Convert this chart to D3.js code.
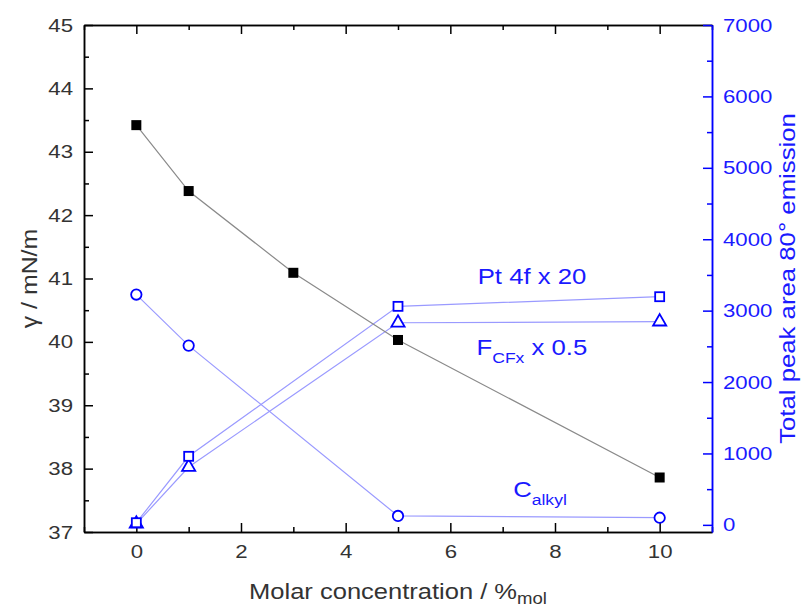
<!DOCTYPE html>
<html lang="en">

<head>
  <meta charset="utf-8">
  <title>surfaceTension</title>
  <script src="https://d3js.org/d3.v7.min.js"></script>
  <style type="text/css">
    html,
    body {
      margin: 0;
      padding: 0;
      background: #fff;
      overflow: hidden;
    }

    svg {
      display: block;
    }

    svg text {
      font-family: "Liberation Sans", Arial, Helvetica, sans-serif;
    }

    .axis path.domain {
      stroke-width: 1.5px;
    }

    .axis line {
      stroke-width: 1.5px;
    }

    .axis text {
      font-size: 19px;
      fill: #333;
    }

    #yAxisRight text {
      fill: #1a1aff;
    }

    .title {
      font-size: 22px;
      fill: #333;
      text-anchor: middle;
    }

    .seriesLabel {
      font-size: 22px;
      fill: #1a1aff;
    }
  </style>
</head>

<body>
  <script>
    // data
    const concGamma = [0, 1, 3, 5, 10];
    const gammaValues = [43.42, 42.38, 41.09, 40.03, 37.86];

    const concXps = [0, 1, 5, 10];
    const pt4fValues = [30, 960, 3060, 3195];
    const cfxValues = [15, 810, 2830, 2845];
    const alkylValues = [3225, 2510, 125, 100];

    const xTicks = [0, 2, 4, 6, 8, 10];
    const xMinorTicks = [-1, 1, 3, 5, 7, 9, 11];
    const yLeftTicks = [37, 38, 39, 40, 41, 42, 43, 44, 45];
    const yRightTicks = [0, 1000, 2000, 3000, 4000, 5000, 6000, 7000];

    // config
    const width = 802, height = 609;
    const margin = { top: 25, bottom: 77, left: 84, right: 90 };
    const innerWidth = width - margin.left - margin.right;
    const innerHeight = height - margin.top - margin.bottom;
    const blue = "#0000ff";
    const lineBlue = "#9a9aff";
    const wide = 1.17; // the original font runs wider than Liberation Sans

    // stretch text along its own direction, keeping its anchor point
    function widen(sel, s) {
      sel.each(function () {
        const t = d3.select(this);
        const x = +t.attr("x") || 0;
        t.attr("x", x / s);
        t.attr("transform", (t.attr("transform") || "") + ` scale(${s},1)`);
      });
    }

    const svg = d3.select("body").append("svg")
      .attr("width", width).attr("height", height);
    const g = svg.append("g")
      .attr("transform", `translate(${margin.left},${margin.top})`);

    // scales
    const xScale = d3.scaleLinear().domain([-1, 11]).range([0, innerWidth]);
    const yLeft = d3.scaleLinear().domain([37, 45]).range([innerHeight, 0]);
    const yRight = d3.scaleLinear().domain([-100, 7000]).range([innerHeight, 0]);

    // axes: ticks point inside
    const xGroup = g.append("g").attr("class", "axis")
      .attr("transform", `translate(0,${innerHeight})`)
      .call(d3.axisBottom(xScale).tickValues(xTicks).tickSize(-9).tickPadding(13).tickSizeOuter(0));
    g.append("g").attr("class", "axis minor")
      .attr("transform", `translate(0,${innerHeight})`)
      .call(d3.axisBottom(xScale).tickValues(xMinorTicks).tickSize(-5).tickFormat("").tickSizeOuter(0));
    g.append("g").attr("class", "axis")
      .call(d3.axisTop(xScale).tickValues(xTicks).tickSize(-9).tickFormat("").tickSizeOuter(0));
    g.append("g").attr("class", "axis minor")
      .call(d3.axisTop(xScale).tickValues(xMinorTicks).tickSize(-5).tickFormat("").tickSizeOuter(0));

    const yGroup = g.append("g").attr("class", "axis")
      .call(d3.axisLeft(yLeft).tickValues(yLeftTicks).tickSize(-9).tickPadding(11).tickSizeOuter(0));
    g.append("g").attr("class", "axis minor")
      .call(d3.axisLeft(yLeft).tickValues(d3.range(37.5, 45, 1)).tickSize(-5).tickFormat("").tickSizeOuter(0));

    const rightGroup = g.append("g").attr("class", "axis").attr("id", "yAxisRight")
      .attr("transform", `translate(${innerWidth},0)`)
      .call(d3.axisRight(yRight).tickValues(yRightTicks).tickFormat(d3.format("d"))
        .tickSize(-9).tickPadding(11).tickSizeOuter(0));
    g.append("g").attr("class", "axis minor")
      .attr("transform", `translate(${innerWidth},0)`)
      .call(d3.axisRight(yRight).tickValues(d3.range(500, 7000, 1000)).tickSize(-5).tickFormat("").tickSizeOuter(0))
      .selectAll("line, path").attr("stroke", blue);
    rightGroup.selectAll("line, path").attr("stroke", blue);

    widen(xGroup.selectAll("text"), wide);
    widen(yGroup.selectAll("text"), wide);
    widen(rightGroup.selectAll("text"), wide);

    // blue series (right axis)
    const rightLine = d3.line().x((d, i) => xScale(concXps[i])).y(d => yRight(d));
    [alkylValues, cfxValues, pt4fValues].forEach(vals => {
      g.append("path").datum(vals)
        .attr("d", rightLine)
        .attr("fill", "none").attr("stroke", lineBlue).attr("stroke-width", 1.2);
    });

    g.selectAll("circle.alkyl").data(alkylValues).join("circle")
      .attr("class", "alkyl")
      .attr("cx", (d, i) => xScale(concXps[i])).attr("cy", d => yRight(d))
      .attr("r", 5.2)
      .attr("fill", "#fff").attr("stroke", blue).attr("stroke-width", 1.8);

    const tri = d3.symbol().type(d3.symbolTriangle).size(75);
    g.selectAll("path.cfx").data(cfxValues).join("path")
      .attr("class", "cfx")
      .attr("d", tri)
      .attr("transform", (d, i) => `translate(${xScale(concXps[i])},${yRight(d)})`)
      .attr("fill", "#fff").attr("stroke", blue).attr("stroke-width", 1.8);

    g.selectAll("rect.pt").data(pt4fValues).join("rect")
      .attr("class", "pt")
      .attr("x", (d, i) => xScale(concXps[i]) - 4.5).attr("y", d => yRight(d) - 4.5)
      .attr("width", 9).attr("height", 9)
      .attr("fill", "#fff").attr("stroke", blue).attr("stroke-width", 1.8);

    // gamma series (left axis)
    g.append("path").datum(gammaValues)
      .attr("d", d3.line().x((d, i) => xScale(concGamma[i])).y(d => yLeft(d)))
      .attr("fill", "none").attr("stroke", "#8a8a8a").attr("stroke-width", 1.2);
    g.selectAll("rect.gamma").data(gammaValues).join("rect")
      .attr("class", "gamma")
      .attr("x", (d, i) => xScale(concGamma[i]) - 5).attr("y", d => yLeft(d) - 5)
      .attr("width", 10).attr("height", 10)
      .attr("fill", "#000");

    // series labels
    const ptLabel = g.append("text").attr("class", "seriesLabel")
      .attr("x", xScale(8.6)).attr("y", yRight(3370))
      .attr("text-anchor", "end")
      .text("Pt 4f x 20");
    const fLabel = g.append("text").attr("class", "seriesLabel")
      .attr("x", xScale(6.5)).attr("y", yRight(2380));
    fLabel.append("tspan").text("F");
    fLabel.append("tspan").attr("dy", 8).attr("font-size", 15).text("CFx");
    fLabel.append("tspan").attr("dy", -8).text(" x 0.5");
    const cLabel = g.append("text").attr("class", "seriesLabel")
      .attr("x", xScale(7.2)).attr("y", yRight(390));
    cLabel.append("tspan").text("C");
    cLabel.append("tspan").attr("dy", 8).attr("font-size", 15).text("alkyl");
    widen(ptLabel, wide);
    widen(fLabel, wide);
    widen(cLabel, wide);

    // axis titles
    const leftTitle = g.append("text").attr("class", "title")
      .attr("transform", `translate(${37 - margin.left},${innerHeight / 2}) rotate(-90)`)
      .text("γ / mN/m");
    const rightTitle = g.append("text").attr("class", "title")
      .attr("transform", `translate(${innerWidth + 83},${innerHeight / 2}) rotate(-90)`)
      .style("fill", "#1a1aff")
      .text("Total peak area 80° emission");
    const xTitle = g.append("text").attr("class", "title")
      .attr("x", innerWidth / 2).attr("y", innerHeight + 67);
    xTitle.append("tspan").text("Molar concentration / %");
    xTitle.append("tspan").attr("dy", 5).attr("font-size", 16).text("mol");
    widen(leftTitle, 1.13);
    widen(rightTitle, 1.17);
    widen(xTitle, 1.16);
  </script>
</body>

</html>
